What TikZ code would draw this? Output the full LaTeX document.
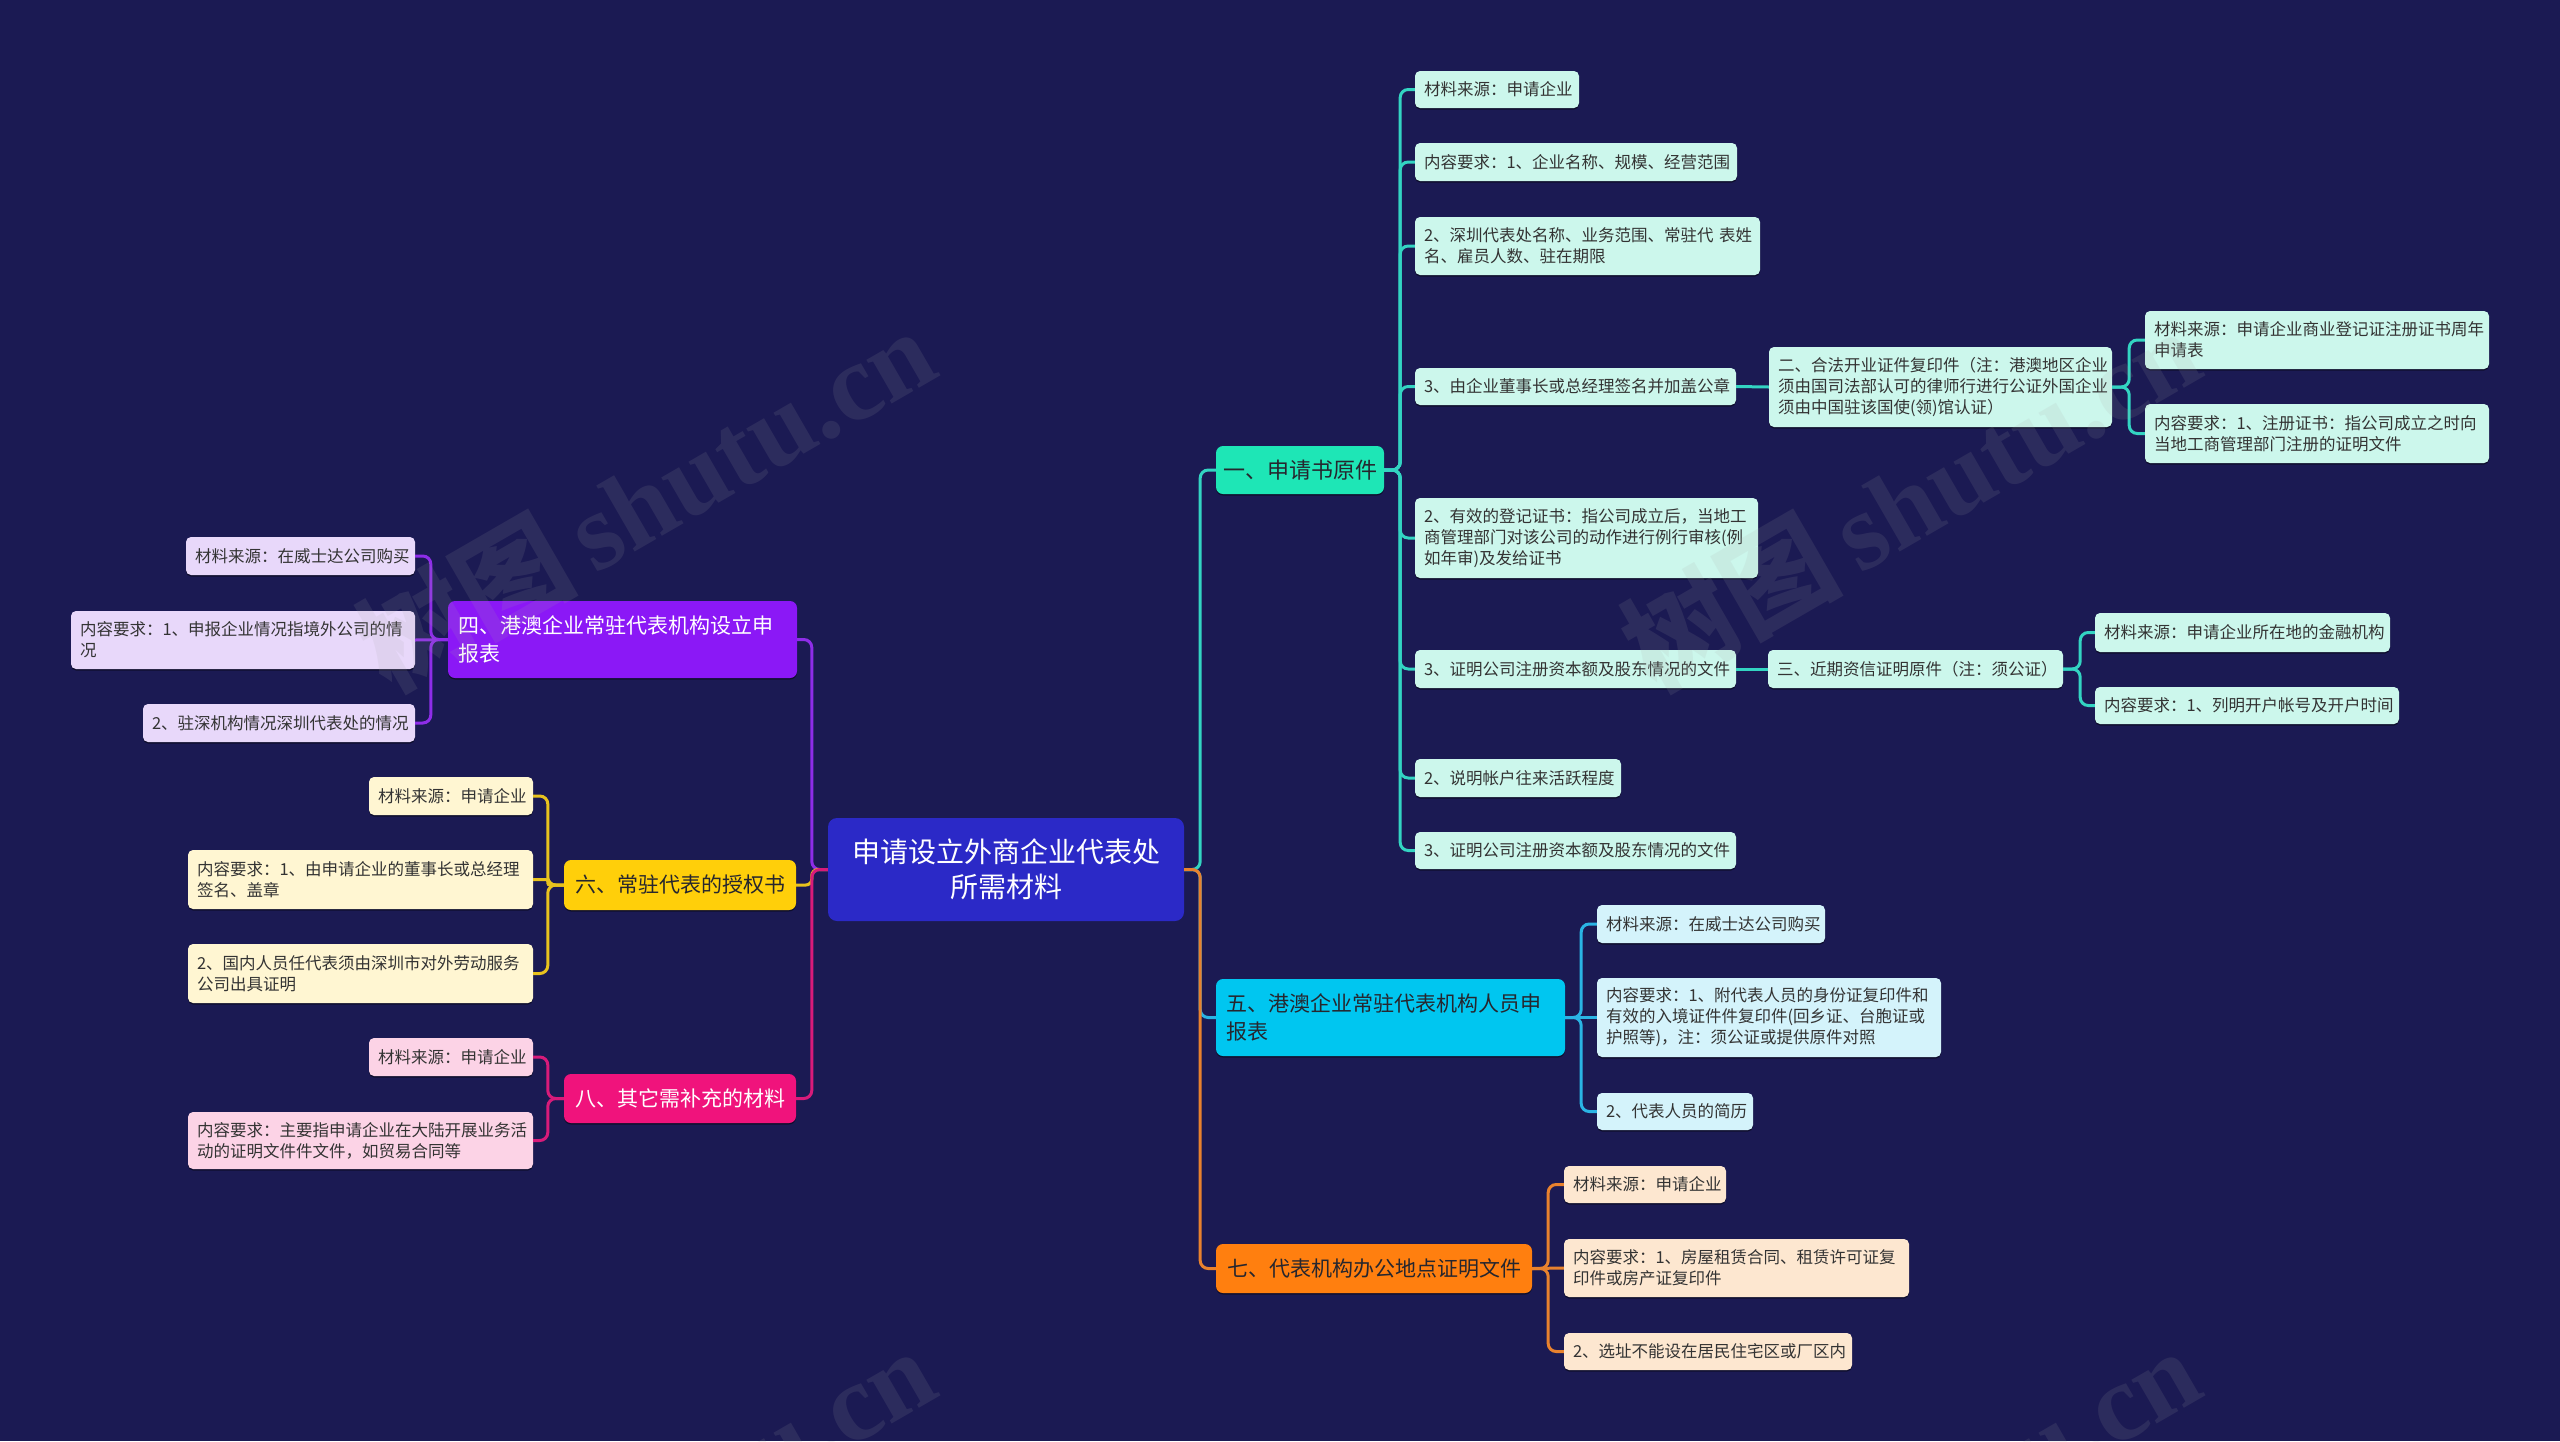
\documentclass[tikz,border=0pt]{standalone}
\usepackage{fontspec}
\usetikzlibrary{shadows}
\setmainfont{Noto Sans CJK SC}
\newfontfamily\wmserif{Liberation Serif}
\definecolor{bgc}{HTML}{1B1A53}
\definecolor{ctrfill}{HTML}{2B29C7}
\definecolor{dtxt}{HTML}{26262E}
\definecolor{ltxt}{HTML}{333333}
\definecolor{teal1}{HTML}{1EE6B6}
\definecolor{tealL}{HTML}{CCF7EC}
\definecolor{tealC}{HTML}{33D4C2}
\definecolor{cyan1}{HTML}{00C6F0}
\definecolor{cyanL}{HTML}{D4F3FB}
\definecolor{cyanC}{HTML}{2AB4E4}
\definecolor{orng1}{HTML}{FF7F0F}
\definecolor{orngL}{HTML}{FDE7D0}
\definecolor{orngC}{HTML}{E8822E}
\definecolor{purp1}{HTML}{8B18F6}
\definecolor{purpL}{HTML}{E8D8FA}
\definecolor{purpC}{HTML}{8E2DE8}
\definecolor{yell1}{HTML}{FFCF0A}
\definecolor{yellL}{HTML}{FFF6D2}
\definecolor{yellC}{HTML}{E8C21E}
\definecolor{pink1}{HTML}{F0137C}
\definecolor{pinkL}{HTML}{FCD3E6}
\definecolor{pinkC}{HTML}{D81B7A}
\tikzset{
  softshadow/.style={drop shadow={shadow xshift=0pt, shadow yshift=-1.5pt, opacity=0.45, fill=black}},
  leaf/.style={rounded corners=5pt, inner xsep=9pt, inner ysep=2pt, align=left, text=ltxt, softshadow,
    font=\fontsize{16.5}{21}\selectfont},
  lvlone/.style={rounded corners=7pt, inner xsep=10pt, inner ysep=2pt, softshadow, font=\fontsize{21}{28}\selectfont},
  conn/.style={line width=3pt, rounded corners=8pt},
  wmark/.style={rotate=30, text=gray!70, opacity=0.13, font=\fontsize{110}{110}\selectfont\bfseries},
}
\begin{document}
\begin{tikzpicture}[x=1pt,y=-1pt]
\useasboundingbox (0,0) rectangle (2560,1441);
\fill[bgc] (0,0) rectangle (2560,1441);

% centre
\node[rounded corners=9pt, fill=ctrfill, text=white, align=center, minimum width=356pt, minimum height=103pt,
  font=\fontsize{28}{35}\selectfont] (ctr) at (1006,869.5) {申请设立外商企业代表处\\所需材料};

% ---------- branch 一 ----------
\node[lvlone, fill=teal1, text=dtxt, inner xsep=0pt, text width=168pt, align=center, minimum height=48pt, font=\fontsize{22}{28}\selectfont] (n1) at (1300,470) {一、申请书原件};
\node[leaf, fill=tealL, text width=146pt, minimum height=37pt] (a1) at (1497,89.5) {材料来源：申请企业};
\node[leaf, fill=tealL, text width=304pt, minimum height=38pt] (a2) at (1576,162) {内容要求：1、企业名称、规模、经营范围};
\node[leaf, fill=tealL, text width=327pt, minimum height=58pt] (a3) at (1587.5,246) {2、深圳代表处名称、业务范围、常驻代~表姓\\名、雇员人数、驻在期限};
\node[leaf, fill=tealL, text width=303pt, minimum height=37pt] (a4) at (1575.5,386.5) {3、由企业董事长或总经理签名并加盖公章};
\node[leaf, fill=tealL, text width=325pt, minimum height=80pt] (b) at (1940.5,387) {二、合法开业证件复印件（注：港澳地区企业\\须由国司法部认可的律师行进行公证外国企业\\须由中国驻该国使(领)馆认证）};
\node[leaf, fill=tealL, text width=326pt, minimum height=58pt] (c1) at (2317,340) {材料来源：申请企业商业登记证注册证书周年\\申请表};
\node[leaf, fill=tealL, text width=326pt, minimum height=59pt] (c2) at (2317,433.5) {内容要求：1、注册证书：指公司成立之时向\\当地工商管理部门注册的证明文件};
\node[leaf, fill=tealL, text width=325pt, minimum height=80pt] (a5) at (1586.5,538) {2、有效的登记证书：指公司成立后，当地工\\商管理部门对该公司的动作进行例行审核(例\\如年审)及发给证书};
\node[leaf, fill=tealL, text width=303pt, minimum height=38pt] (a6) at (1575.5,669) {3、证明公司注册资本额及股东情况的文件};
\node[leaf, fill=tealL, text width=277pt, minimum height=38pt] (d) at (1915.5,669) {三、近期资信证明原件（注：须公证）};
\node[leaf, fill=tealL, text width=277pt, minimum height=39pt] (e1) at (2242.5,632.5) {材料来源：申请企业所在地的金融机构};
\node[leaf, fill=tealL, text width=286pt, minimum height=37pt] (e2) at (2247,705.5) {内容要求：1、列明开户帐号及开户时间};
\node[leaf, fill=tealL, text width=188pt, minimum height=38pt] (a7) at (1518,778) {2、说明帐户往来活跃程度};
\node[leaf, fill=tealL, text width=303pt, minimum height=37pt] (a8) at (1575.5,850.5) {3、证明公司注册资本额及股东情况的文件};

% ---------- branch 五 ----------
\node[lvlone, fill=cyan1, text=dtxt, align=left, text width=329pt, minimum height=77pt] (n5) at (1390.5,1017.5) {五、港澳企业常驻代表机构人员申\\报表};
\node[leaf, fill=cyanL, text width=210pt, minimum height=38pt] (f1) at (1711,924) {材料来源：在威士达公司购买};
\node[leaf, fill=cyanL, text width=326pt, minimum height=79pt] (f2) at (1769,1017.5) {内容要求：1、附代表人员的身份证复印件和\\有效的入境证件件复印件(回乡证、台胞证或\\护照等)，注：须公证或提供原件对照};
\node[leaf, fill=cyanL, text width=138pt, minimum height=37pt] (f3) at (1675,1111.5) {2、代表人员的简历};

% ---------- branch 七 ----------
\node[lvlone, fill=orng1, text=dtxt, minimum width=316pt, minimum height=49pt] (n7) at (1374,1268.5) {七、代表机构办公地点证明文件};
\node[leaf, fill=orngL, text width=144pt, minimum height=37pt] (g1) at (1645,1184.5) {材料来源：申请企业};
\node[leaf, fill=orngL, text width=327pt, minimum height=58pt] (g2) at (1736.5,1268) {内容要求：1、房屋租赁合同、租赁许可证复\\印件或房产证复印件};
\node[leaf, fill=orngL, text width=270pt, minimum height=37pt] (g3) at (1708,1351.5) {2、选址不能设在居民住宅区或厂区内};

% ---------- branch 四 ----------
\node[lvlone, fill=purp1, text=white, align=left, text width=329pt, minimum height=77pt] (n4) at (622.5,639.5) {四、港澳企业常驻代表机构设立申\\报表};
\node[leaf, fill=purpL, text width=211pt, minimum height=38pt] (h1) at (300.5,556) {材料来源：在威士达公司购买};
\node[leaf, fill=purpL, text width=326pt, minimum height=58pt] (h2) at (243,640) {内容要求：1、申报企业情况指境外公司的情\\况};
\node[leaf, fill=purpL, text width=254pt, minimum height=38pt] (h3) at (279,723) {2、驻深机构情况深圳代表处的情况};

% ---------- branch 六 ----------
\node[lvlone, fill=yell1, text=dtxt, minimum width=232pt, minimum height=50pt] (n6) at (680,885) {六、常驻代表的授权书};
\node[leaf, fill=yellL, text width=146pt, minimum height=38pt] (i1) at (451,796) {材料来源：申请企业};
\node[leaf, fill=yellL, text width=327pt, minimum height=59pt] (i2) at (360.5,879.5) {内容要求：1、由申请企业的董事长或总经理\\签名、盖章};
\node[leaf, fill=yellL, text width=327pt, minimum height=59pt] (i3) at (360.5,973.5) {2、国内人员任代表须由深圳市对外劳动服务\\公司出具证明};

% ---------- branch 八 ----------
\node[lvlone, fill=pink1, text=white, minimum width=232pt, minimum height=49pt] (n8) at (680,1098.5) {八、其它需补充的材料};
\node[leaf, fill=pinkL, text width=146pt, minimum height=38pt] (j1) at (451,1057) {材料来源：申请企业};
\node[leaf, fill=pinkL, text width=327pt, minimum height=57pt] (j2) at (360.5,1140.5) {内容要求：主要指申请企业在大陆开展业务活\\动的证明文件件文件，如贸易合同等};

% ---------- connectors ----------
\draw[conn, tealC] (ctr.east) -- ++(16,0) |- (n1.west);
\draw[conn, cyanC] (ctr.east) -- ++(16,0) |- (n5.west);
\draw[conn, orngC] (ctr.east) -- ++(16,0) |- (n7.west);
\draw[conn, purpC] (ctr.west) -- ++(-16,0) |- (n4.east);
\draw[conn, yellC, rounded corners=6pt] (ctr.west) -- ++(-16,0) |- (n6.east);
\draw[conn, pinkC] (ctr.west) -- ++(-16,0) |- (n8.east);

\foreach \c in {a1,a2,a3,a4,a5,a6,a7,a8}
  \draw[conn, tealC] (n1.east) -- ++(16,0) |- (\c.west);
\draw[conn, tealC] (a4.east) -- (b.west);
\draw[conn, tealC] (b.east) -- ++(17,0) |- (c1.west);
\draw[conn, tealC] (b.east) -- ++(17,0) |- (c2.west);
\draw[conn, tealC] (a6.east) -- (d.west);
\draw[conn, tealC] (d.east) -- ++(17,0) |- (e1.west);
\draw[conn, tealC] (d.east) -- ++(17,0) |- (e2.west);

\draw[conn, cyanC] (n5.east) -- ++(16,0) |- (f1.west);
\draw[conn, cyanC] (n5.east) -- (f2.west);
\draw[conn, cyanC] (n5.east) -- ++(16,0) |- (f3.west);

\draw[conn, orngC] (n7.east) -- ++(16,0) |- (g1.west);
\draw[conn, orngC] (n7.east) -- (g2.west);
\draw[conn, orngC] (n7.east) -- ++(16,0) |- (g3.west);

\draw[conn, purpC] (n4.west) -- ++(-17,0) |- (h1.east);
\draw[conn, purpC] (n4.west) -- (h2.east);
\draw[conn, purpC] (n4.west) -- ++(-17,0) |- (h3.east);

\draw[conn, yellC] (n6.west) -- ++(-16,0) |- (i1.east);
\draw[conn, yellC, rounded corners=2pt] (n6.west) -- ++(-16,0) |- (i2.east);
\draw[conn, yellC] (n6.west) -- ++(-16,0) |- (i3.east);

\draw[conn, pinkC] (n8.west) -- ++(-16,0) |- (j1.east);
\draw[conn, pinkC] (n8.west) -- ++(-16,0) |- (j2.east);

% ---------- watermark ----------
\begin{scope}
\clip (0,0) rectangle (2560,1441);
\node[wmark] (wm1) at (645,498) {树图\,{\wmserif shutu.cn}};
\node[wmark] (wm2) at (1910,498) {树图\,{\wmserif shutu.cn}};
\node[wmark] (wm3) at (645,1518) {树图\,{\wmserif shutu.cn}};
\node[wmark] (wm4) at (1910,1518) {树图\,{\wmserif shutu.cn}};
\end{scope}
\end{tikzpicture}
\end{document}
